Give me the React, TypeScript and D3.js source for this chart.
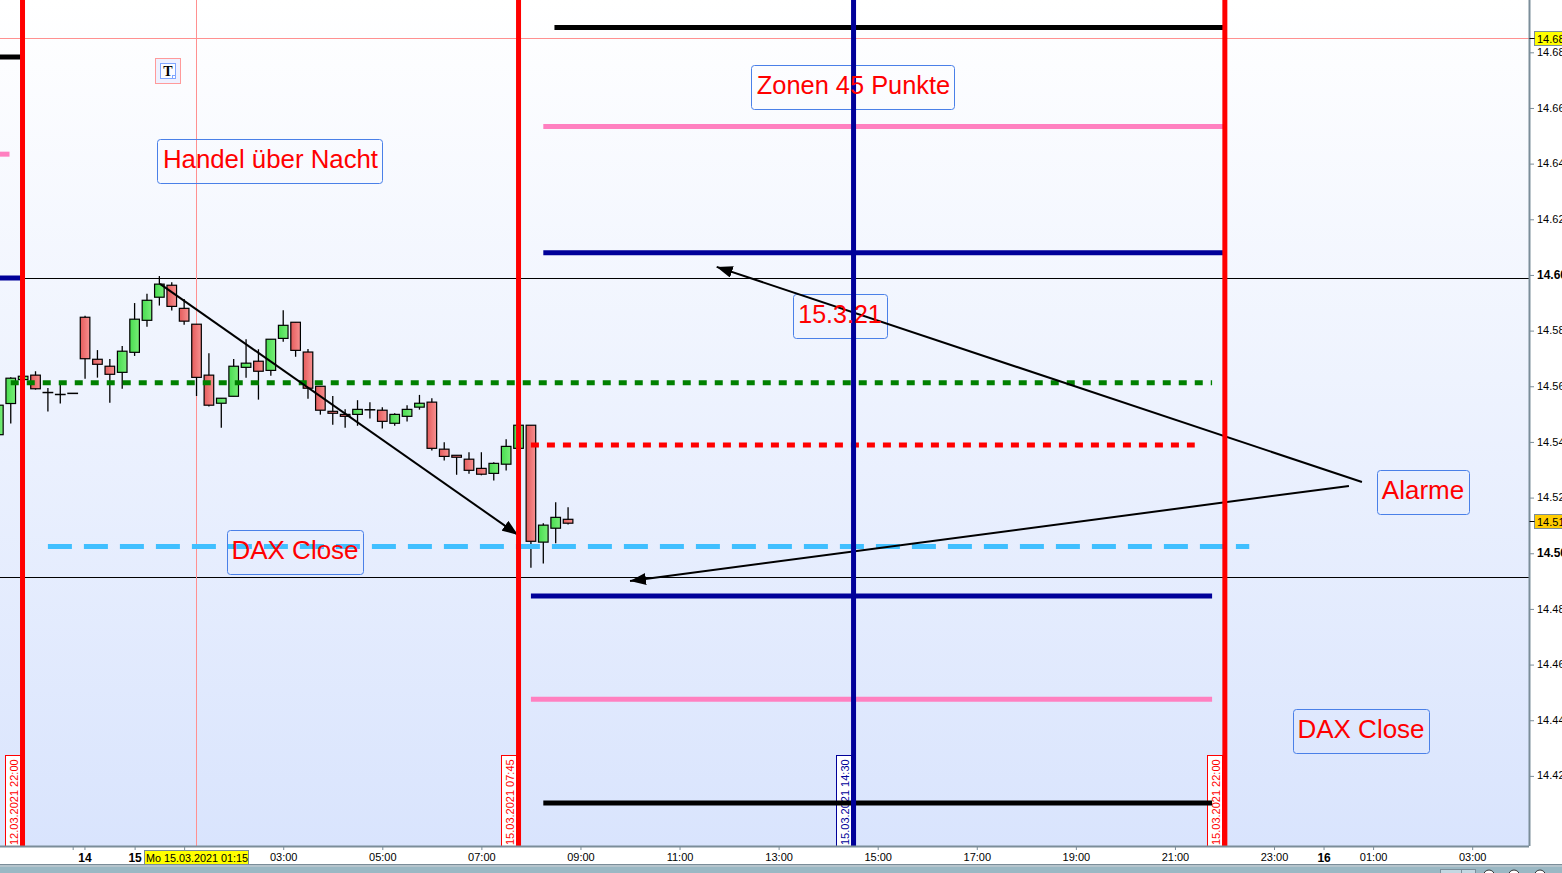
import React, { useRef, useEffect } from 'react';
import * as d3 from 'd3';

const width = 1562;
const height = 873;
const font = '"Liberation Sans", Arial, sans-serif';

// bars are counted in 15 minute steps from Mo 15.03.2021 00:00
const firstBar = -11;
const opens = [14542.6, 14553.8, 14562.4, 14564.0, 14557.8, 14557.1, 14557.5, 14584.8, 14569.7, 14567.2, 14565.0, 14572.2, 14583.7, 14592.0, 14596.3, 14588.0, 14582.3, 14564.0, 14553.9, 14556.4, 14566.8, 14569.0, 14565.7, 14577.2, 14583.0, 14572.3, 14560.0, 14551.0, 14549.9, 14549.9, 14551.6, 14551.4, 14546.7, 14549.2, 14552.5, 14554.3, 14537.4, 14535.2, 14533.8, 14530.5, 14528.7, 14532.0, 14537.7, 14546.0, 14504.0, 14509.0, 14512.2];
const highs = [14553.2, 14563.2, 14563.6, 14565.4, 14559.4, 14560.5, 14557.5, 14585.3, 14573.0, 14569.8, 14574.5, 14589.9, 14593.2, 14599.6, 14597.4, 14591.4, 14582.3, 14571.9, 14555.7, 14569.8, 14576.9, 14573.3, 14576.9, 14587.3, 14583.0, 14573.4, 14560.0, 14556.5, 14551.7, 14555.0, 14554.3, 14552.5, 14550.3, 14553.2, 14556.9, 14555.7, 14539.9, 14535.2, 14536.3, 14536.3, 14532.7, 14541.0, 14546.0, 14546.0, 14510.8, 14518.3, 14516.5];
const lows = [14542.6, 14546.6, 14562.4, 14558.8, 14550.9, 14553.8, 14557.5, 14562.7, 14563.1, 14554.1, 14559.1, 14570.9, 14581.4, 14589.0, 14587.2, 14582.1, 14556.5, 14552.7, 14545.1, 14556.4, 14563.1, 14555.2, 14563.8, 14576.0, 14570.6, 14555.5, 14549.8, 14546.2, 14545.1, 14545.8, 14548.4, 14544.8, 14545.8, 14547.3, 14551.6, 14536.9, 14533.3, 14528.2, 14528.6, 14528.0, 14526.1, 14529.7, 14537.7, 14494.8, 14496.3, 14503.6, 14510.3];
const closes = [14553.2, 14562.9, 14563.6, 14559.1, 14557.8, 14557.1, 14557.5, 14569.9, 14567.9, 14564.3, 14572.6, 14584.1, 14590.9, 14596.7, 14588.7, 14583.4, 14563.2, 14553.2, 14555.7, 14567.2, 14568.3, 14565.4, 14576.9, 14581.9, 14572.9, 14559.3, 14551.4, 14550.3, 14549.2, 14551.7, 14551.6, 14547.4, 14549.9, 14551.7, 14553.9, 14537.7, 14534.8, 14534.5, 14529.8, 14528.4, 14532.3, 14538.4, 14546.0, 14504.3, 14510.1, 14512.9, 14510.8];

const priceTicks = [14700, 14680, 14660, 14640, 14620, 14600, 14580, 14560, 14540, 14520, 14500, 14480, 14460, 14440, 14420];
const boldPrices = [14600, 14500];
const timeTicks = [-5, -4.05, 0, 4, 12, 20, 28, 36, 44, 52, 60, 68, 76, 84, 92, 96, 100, 108];
const timeLabels = ['', '14', '15', '', '03:00', '05:00', '07:00', '09:00', '11:00', '13:00', '15:00', '17:00', '19:00', '21:00', '23:00', '16', '01:00', '03:00'];

const levelPrices = [14688.9, 14653.3, 14608, 14484.6, 14447.5, 14410.3, 14678.3, 14643.4, 14598.9];
const levelFrom = [33.9, 33, 33, 32, 32, 33, -12, -12, -12];
const levelTo = [88, 88, 88, 87, 87, 87, -9, -10.1, -9];
const levelColors = ['#000000', '#ff80c0', '#000099', '#000099', '#ff80c0', '#000000', '#000000', '#ff80c0', '#000099'];

const dashPrices = [14561.3, 14538.9, 14502.4];
const dashFrom = [-10, 32, -7];
const dashTo = [87, 85.6, 90];
const dashColors = ['#008000', '#ff0000', '#40bfff'];
const dashPatterns = ['8 8', '8 8', '24 12'];

const thinPrices = [14598.9, 14491.3];
const crossPrice = 14685;
const crossBar = 5;

const verticalBars = [-9.05, 31, 58.05, 88.03];
const verticalColors = ['#ff0000', '#ff0000', '#000099', '#ff0000'];
const verticalLabels = ['12.03.2021 22:00', '15.03.2021 07:45', '15.03.2021 14:30', '15.03.2021 22:00'];

const arrowFromBar = [2.05, 99.1, 98.05];
const arrowFromPrice = [14596.8, 14525.6, 14524.2];
const arrowToBar = [30.96, 47, 40];
const arrowToPrice = [14506.6, 14602.9, 14490];

const noteTexts = ['Zonen 45 Punkte', 'Handel über Nacht', '15.3.21', 'Alarme', 'DAX Close', 'DAX Close'];
const noteBars = [49.8, 1.8, 53.2, 100.3, 7.5, 93.5];
const notePrices = [14675.4, 14648.85, 14593.15, 14529.9, 14508.4, 14444.0];
const noteWidths = [203, 225, 94, 92, 136, 136];
const noteSizes = [25.4, 25.8, 25, 26, 26, 26];
const noteHeight = 44;

const App: React.FC = () => {
  const ref = useRef<SVGSVGElement>(null);

  useEffect(() => {
    if (!ref.current) {
      return;
    }
    const svg = d3.select(ref.current);
    svg.selectAll('*').remove();

    const plotRight = 1529;
    const plotBottom = 846;

    const x = d3.scaleLinear().domain([0, 100]).range([134.6, 1373.1]);
    const y = d3.scaleLinear().domain([14680, 14420]).range([52.3, 775.9]);

    const defs = svg.append('defs');
    const addGradient = (id: string, stops: string[], vertical: boolean) => {
      const g = defs.append('linearGradient').attr('id', id)
        .attr('x1', 0).attr('y1', 0)
        .attr('x2', vertical ? 0 : 1).attr('y2', vertical ? 1 : 0);
      stops.forEach((c, i) => {
        g.append('stop').attr('offset', i / (stops.length - 1)).attr('stop-color', c);
      });
    };
    addGradient('bg', ['#ffffff', '#d9e4fd'], true);
    addGradient('up', ['#48dc50', '#78ee78'], false);
    addGradient('down', ['#e45c5c', '#f89090'], false);
    defs.append('marker').attr('id', 'head')
      .attr('viewBox', '0 0 16 12').attr('refX', 16).attr('refY', 6)
      .attr('markerUnits', 'userSpaceOnUse')
      .attr('markerWidth', 16).attr('markerHeight', 12).attr('orient', 'auto')
      .append('path').attr('d', 'M0,0L16,6L0,12Z').attr('fill', '#000');

    svg.append('rect').attr('width', width).attr('height', height).attr('fill', '#ffffff');
    svg.append('rect').attr('width', plotRight).attr('height', plotBottom).attr('fill', 'url(#bg)');

    // thin horizontal lines and crosshair
    svg.append('g').selectAll('line').data(thinPrices).join('line')
      .attr('x1', 0).attr('x2', plotRight)
      .attr('y1', d => Math.round(y(d)) + 0.5).attr('y2', d => Math.round(y(d)) + 0.5)
      .attr('stroke', '#000').attr('stroke-width', 1);
    svg.append('line').attr('x1', 0).attr('x2', plotRight)
      .attr('y1', Math.round(y(crossPrice)) + 0.5).attr('y2', Math.round(y(crossPrice)) + 0.5)
      .attr('stroke', '#ff9090');
    svg.append('line').attr('y1', 0).attr('y2', plotBottom)
      .attr('x1', Math.floor(x(crossBar)) + 0.5).attr('x2', Math.floor(x(crossBar)) + 0.5)
      .attr('stroke', '#ff9090');

    // candles, a flat bar still needs a visible body
    const bars = opens.map((o, i) => ({ bar: firstBar + i, o, h: highs[i], l: lows[i], c: closes[i] }));
    const candle = svg.append('g').selectAll('g').data(bars).join('g');
    candle.append('line')
      .attr('x1', d => x(d.bar)).attr('x2', d => x(d.bar))
      .attr('y1', d => y(d.h)).attr('y2', d => y(d.l))
      .attr('stroke', '#000').attr('stroke-width', 1.3);
    candle.append('rect')
      .attr('x', d => x(d.bar) - 4.8).attr('width', 9.6)
      .attr('y', d => y(Math.max(d.o, d.c)))
      .attr('height', d => Math.max(Math.abs(y(d.o) - y(d.c)), 0.3))
      .attr('fill', d => (d.c >= d.o ? 'url(#up)' : 'url(#down)'))
      .attr('stroke', '#000').attr('stroke-width', 1.2);

    // date tags sit under the zone lines
    const tag = svg.append('g').selectAll('g').data(verticalBars).join('g')
      .attr('transform', d => `translate(${Math.round(x(d)) - 17.5},755.5)`);
    tag.append('rect').attr('width', 15).attr('height', 91)
      .attr('fill', '#ffffff').attr('stroke', (_, i) => verticalColors[i]);
    tag.append('text')
      .attr('transform', 'translate(12,89.5) rotate(-90)')
      .attr('font-family', font).attr('font-size', 11)
      .attr('fill', (_, i) => verticalColors[i])
      .text((_, i) => verticalLabels[i]);

    // note frames
    const notes = noteTexts.map((t, i) => ({ t, bar: noteBars[i], price: notePrices[i], w: noteWidths[i], size: noteSizes[i] }));
    svg.append('g').selectAll('rect').data(notes).join('rect')
      .attr('x', d => Math.round(x(d.bar)) + 0.5).attr('y', d => Math.round(y(d.price)) + 0.5)
      .attr('width', d => d.w).attr('height', noteHeight).attr('rx', 3)
      .attr('fill', 'none').attr('stroke', '#4a80e8').attr('stroke-width', 1);

    // horizontal zones
    svg.append('g').selectAll('line').data(levelPrices).join('line')
      .attr('x1', (_, i) => x(levelFrom[i])).attr('x2', (_, i) => x(levelTo[i]))
      .attr('y1', d => y(d)).attr('y2', d => y(d))
      .attr('stroke', (_, i) => levelColors[i]).attr('stroke-width', 5);
    svg.append('g').selectAll('line').data(dashPrices).join('line')
      .attr('x1', (_, i) => x(dashFrom[i])).attr('x2', (_, i) => x(dashTo[i]))
      .attr('y1', d => y(d)).attr('y2', d => y(d))
      .attr('stroke', (_, i) => dashColors[i])
      .attr('stroke-dasharray', (_, i) => dashPatterns[i])
      .attr('stroke-width', 5);

    // arrows
    svg.append('g').selectAll('line').data(arrowFromBar).join('line')
      .attr('x1', d => x(d)).attr('y1', (_, i) => y(arrowFromPrice[i]))
      .attr('x2', (_, i) => x(arrowToBar[i])).attr('y2', (_, i) => y(arrowToPrice[i]))
      .attr('stroke', '#000').attr('stroke-width', 2)
      .attr('marker-end', 'url(#head)');

    // vertical session lines
    svg.append('g').selectAll('line').data(verticalBars).join('line')
      .attr('x1', d => x(d)).attr('x2', d => x(d))
      .attr('y1', 0).attr('y2', plotBottom)
      .attr('stroke', (_, i) => verticalColors[i]).attr('stroke-width', 5);

    // note texts are on top of all lines
    svg.append('g').selectAll('text').data(notes).join('text')
      .attr('x', (d, i) => Math.round(x(d.bar)) + d.w / 2 + (i < 2 ? 1 : 0)).attr('y', d => Math.round(y(d.price)) + 29)
      .attr('text-anchor', 'middle')
      .attr('font-family', font).attr('font-size', d => d.size).attr('fill', '#ff0000')
      .text(d => d.t);

    // T marker
    const marker = svg.append('g').attr('transform', 'translate(155.5,58.5)');
    marker.append('rect').attr('width', 25).attr('height', 25).attr('fill', '#eef1ff').attr('stroke', '#ff9a9a');
    marker.append('rect').attr('x', 5).attr('y', 5).attr('width', 15).attr('height', 15).attr('fill', '#fbfcff').attr('stroke', '#7fa5ff');
    marker.append('text').attr('x', 12.5).attr('y', 17).attr('text-anchor', 'middle')
      .attr('font-family', '"Liberation Serif", serif').attr('font-weight', 'bold').attr('font-size', 14).text('T');
    marker.append('rect').attr('x', 17).attr('y', 17).attr('width', 3).attr('height', 3).attr('fill', '#ffffff').attr('stroke', '#7fa5ff');

    // price axis
    const yAxis = svg.append('g').attr('transform', `translate(${plotRight},0)`)
      .call(d3.axisRight(y).tickValues(priceTicks).tickSize(5).tickPadding(3)
        .tickFormat(d => d3.format('.2f')((d as number) / 1000)));
    yAxis.select('.domain').attr('d', `M0.5,0V${plotBottom}`).attr('stroke', '#7b8d99').attr('stroke-width', 2);
    yAxis.selectAll('.tick line').attr('stroke', '#7b8d99');
    yAxis.selectAll<SVGTextElement, number>('.tick text')
      .attr('font-family', font).attr('fill', '#000').attr('dy', '0.28em')
      .attr('font-size', d => (boldPrices.includes(d) ? 12 : 11))
      .attr('font-weight', d => (boldPrices.includes(d) ? 'bold' : 'normal'));

    // price tags
    const tags = [{ price: crossPrice, label: '14.68', fill: '#ffff00' }, { price: 14511.6, label: '14.51', fill: '#ffcc00' }];
    const priceTag = svg.append('g').selectAll('g').data(tags).join('g')
      .attr('transform', d => `translate(1534.5,${Math.round(y(d.price)) - 6.5})`);
    priceTag.append('rect').attr('width', 40).attr('height', 14).attr('fill', d => d.fill).attr('stroke', '#7b8d99');
    priceTag.append('text').attr('x', 2.5).attr('y', 11).attr('font-family', font).attr('font-size', 11).text(d => d.label);
    priceTag.append('line').attr('x1', -5).attr('x2', 0).attr('y1', 7).attr('y2', 7).attr('stroke', '#000');

    // time axis
    const xAxis = svg.append('g').attr('transform', `translate(0,${plotBottom})`)
      .call(d3.axisBottom(x).tickValues(timeTicks).tickSize(4).tickPadding(3)
        .tickFormat((_, i) => timeLabels[i]));
    xAxis.select('.domain').attr('d', `M0,0.5H${plotRight}`).attr('stroke', '#7b8d99').attr('stroke-width', 2);
    xAxis.selectAll('.tick line').attr('stroke', '#7b8d99');
    xAxis.selectAll<SVGTextElement, number>('.tick text')
      .attr('font-family', font).attr('fill', '#000')
      .attr('font-weight', (_, i) => (timeLabels[i].length === 2 ? 'bold' : 'normal'))
      .attr('font-size', (_, i) => (timeLabels[i].length === 2 ? 12 : 11));

    const timeTag = svg.append('g').attr('transform', 'translate(144.5,850.5)');
    timeTag.append('rect').attr('width', 104).attr('height', 14).attr('fill', '#ffff00').attr('stroke', '#7b8d99');
    timeTag.append('text').attr('x', 1.5).attr('y', 11).attr('font-family', font).attr('font-size', 10.8).text('Mo 15.03.2021 01:15');

    // window bar along the bottom
    svg.append('rect').attr('y', 865).attr('width', width).attr('height', 8).attr('fill', '#9ab8c4');
    svg.append('rect').attr('y', 865).attr('width', width).attr('height', 2).attr('fill', '#b5c4cc');
    svg.append('line').attr('x1', 0).attr('x2', width).attr('y1', 864.5).attr('y2', 864.5).attr('stroke', '#7b8d99');
    svg.append('g').selectAll('rect').data([1440, 1461]).join('rect')
      .attr('x', d => d + 0.5).attr('y', 869.5).attr('width', (_, i) => (i === 0 ? 21 : 14)).attr('height', 5)
      .attr('fill', '#c4d8e2').attr('stroke', '#7b8d99');
    svg.append('g').selectAll('circle').data([1489, 1514, 1540]).join('circle')
      .attr('cx', d => d).attr('cy', 875.5).attr('r', 5.5)
      .attr('fill', '#ffffff').attr('stroke', '#333');
  }, []);

  return (
    <svg
      ref={ref}
      width={width}
      height={height}
      viewBox={`0 0 ${width} ${height}`}
      style={{ position: 'absolute', left: 0, top: 0, display: 'block' }}
    />
  );
};

export default App;
